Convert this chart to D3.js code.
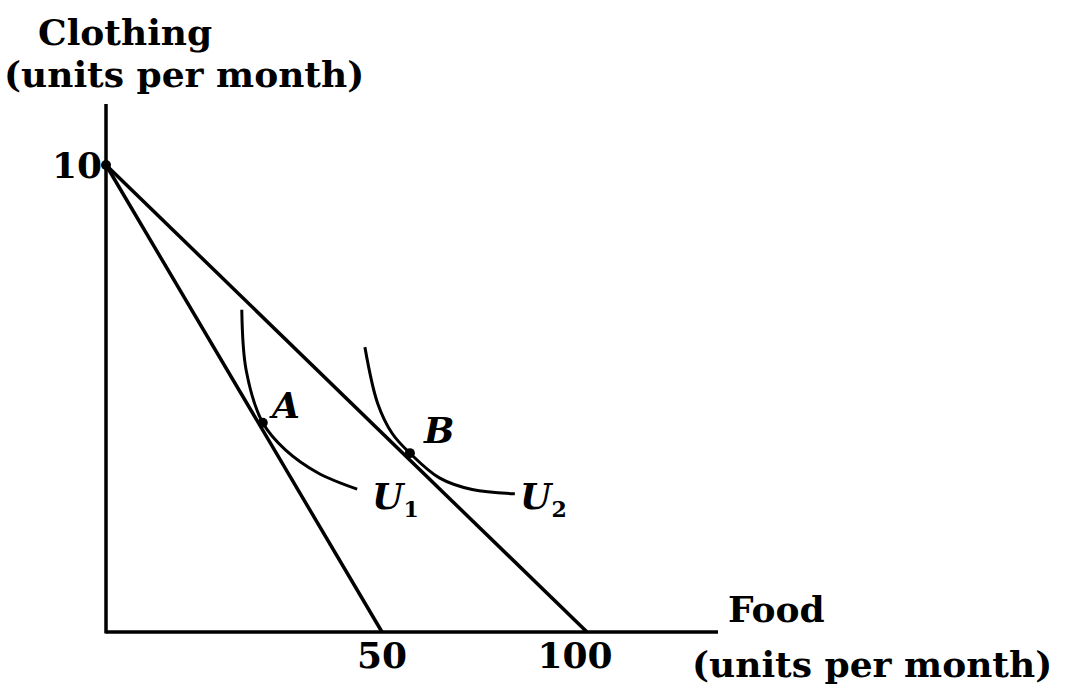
<!DOCTYPE html>
<html><head><meta charset="utf-8">
<script src="https://cdn.jsdelivr.net/npm/d3@7"></script>
<style>body{margin:0;background:#fff}text{font-family:"DejaVu Serif",serif;fill:#000;font-weight:bold}</style>
</head><body><svg id="c" width="1067" height="693"></svg>
<script>
// budget lines: intercepts on clothing and food axes
var budgetLines = [[{f: 0, c: 10}, {f: 50, c: 0}], [{f: 0, c: 10}, {f: 100, c: 0}]];
var u1 = [[24.6, 6.9], [25.4, 5.6], [28.4, 4.48], [32.5, 3.9], [38.5, 3.4], [45.5, 3.06]];
var u2 = [[46.9, 6.1], [49.2, 4.9], [52.5, 4.25], [56.8, 3.83], [64, 3.3], [72, 3.05], [82.4, 2.96]];
var points = [{name: 'A', f: 28.4, c: 4.48}, {name: 'B', f: 56.8, c: 3.83}, {name: '', f: 0, c: 10}];
var xTicks = [50, 100], yTicks = [10];

var svg = d3.select('#c');
// schematic axis: food is not drawn to a single linear scale
var x = d3.scaleLinear().domain([0, 50, 100, 125]).range([106, 382, 587, 718]);
var y = d3.scaleLinear().domain([0, 10, 11.3]).range([632, 165, 104]);

svg.append('line').attr('x1', x(0)).attr('x2', x(0)).attr('y1', y(0) + 1.5).attr('y2', y(11.3))
    .attr('stroke', '#000').attr('stroke-width', 3.5);
svg.append('line').attr('x1', x(0)).attr('x2', x(125)).attr('y1', y(0)).attr('y2', y(0))
    .attr('stroke', '#000').attr('stroke-width', 3.5);

var line = d3.line().x(function (d) { return x(d.f); }).y(function (d) { return y(d.c); });
budgetLines.forEach(function (b) {
    svg.append('path').attr('d', line(b)).attr('fill', 'none').attr('stroke', '#000').attr('stroke-width', 3.5);
});
var curve = d3.line().x(function (d) { return x(d[0]); }).y(function (d) { return y(d[1]); }).curve(d3.curveCatmullRom);
[u1, u2].forEach(function (u) {
    svg.append('path').attr('d', curve(u)).attr('fill', 'none').attr('stroke', '#000').attr('stroke-width', 3);
});
points.forEach(function (p) {
    svg.append('circle').attr('cx', x(p.f)).attr('cy', y(p.c)).attr('r', 5);
});

var fs = '36px';
function txt(s, px, py, anchor) {
    return svg.append('text').attr('x', px).attr('y', py).attr('font-size', fs)
        .attr('text-anchor', anchor || 'start').text(s);
}
txt('Clothing', 38, 45);
txt('(units per month)', 4, 87);
txt('Food', 728, 622);
txt('(units per month)', 692, 677);
xTicks.forEach(function (t) { txt(t, x(t) - (t === 100 ? 12 : 0), 668, 'middle'); });
yTicks.forEach(function (t) { txt(t, x(0) - 4, y(t) + 13, 'end'); });
txt('A', 272, 418).attr('font-style', 'italic');
txt('B', 424, 443).attr('font-style', 'italic');
var l1 = txt('U', 372, 509).attr('font-style', 'italic');
l1.append('tspan').attr('font-size', '22px').attr('font-style', 'normal').attr('dy', 8).text('1');
var l2 = txt('U', 520, 509).attr('font-style', 'italic');
l2.append('tspan').attr('font-size', '22px').attr('font-style', 'normal').attr('dy', 8).text('2');
</script></body></html>
